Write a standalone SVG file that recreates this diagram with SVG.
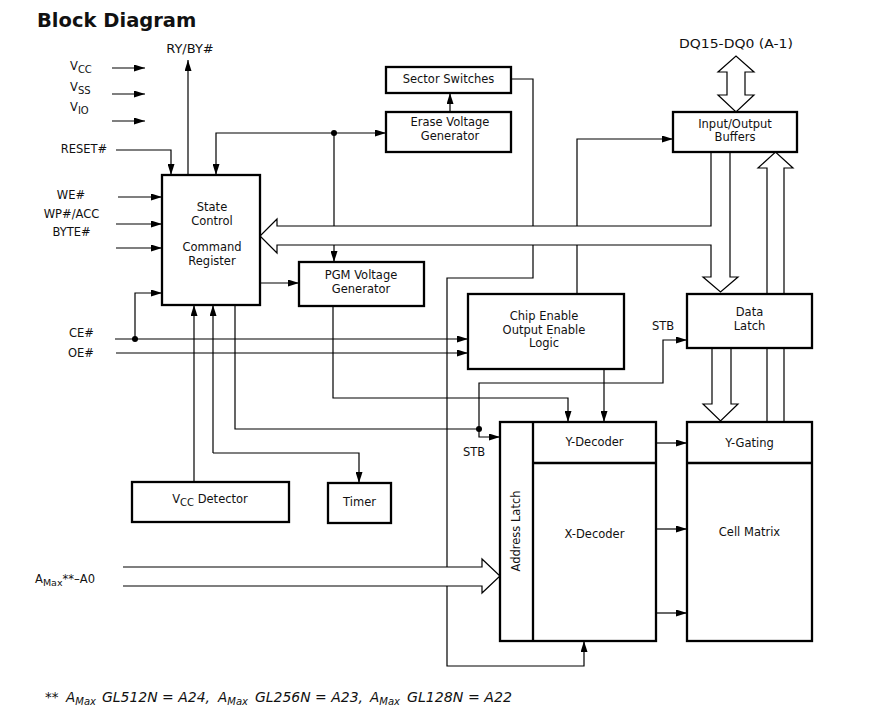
<svg xmlns="http://www.w3.org/2000/svg" width="881" height="722" viewBox="0 0 881 722">
<style>
.t{font-family:"DejaVu Sans","Liberation Sans",sans-serif;font-size:11.5px;fill:#111}
.big{font-size:13px}
.fn{font-family:"DejaVu Sans","Liberation Sans",sans-serif;font-size:13.5px;font-style:italic;fill:#111}
.m{text-anchor:middle}
.e{text-anchor:end}
.box{fill:#fff;stroke:#000;stroke-width:2.3}
.ln{fill:none;stroke:#000;stroke-width:1.2}
.ar{marker-end:url(#ah)}
.hol{fill:#fff;stroke:#000;stroke-width:1.2;stroke-linejoin:miter}
.dot{fill:#000}
</style>
<defs>
<marker id="ah" markerUnits="userSpaceOnUse" markerWidth="11" markerHeight="7" refX="11" refY="3.5" orient="auto">
<path d="M0,0 L11,3.5 L0,7 z" fill="#000"/>
</marker>
</defs>
<rect width="881" height="722" fill="#fff"/>
<text x="37" y="27" font-family="DejaVu Sans,sans-serif" font-weight="bold" font-size="19.5" fill="#111">Block Diagram</text>

<g id="labels">
<text class="t big m" x="190" y="53">RY/BY#</text>
<text class="t" x="70" y="70">V<tspan font-size="10" dy="3">CC</tspan></text>
<text class="t" x="70" y="91">V<tspan font-size="10" dy="3">SS</tspan></text>
<text class="t" x="70" y="111">V<tspan font-size="10" dy="3">IO</tspan></text>
<text class="t m" x="84" y="153">RESET#</text>
<text class="t m" x="71" y="199">WE#</text>
<text class="t m" x="71.5" y="218">WP#/ACC</text>
<text class="t m" x="71.5" y="236">BYTE#</text>
<text class="t e" x="94" y="337">CE#</text>
<text class="t e" x="94" y="357">OE#</text>
<text class="t big m" x="736" y="48" textLength="114" lengthAdjust="spacingAndGlyphs">DQ15-DQ0 (A-1)</text>
<text class="t" x="652" y="330">STB</text>
<text class="t" x="463" y="456">STB</text>
<text class="t" x="35" y="583" font-size="12">A<tspan font-size="9.5" dy="3">Max</tspan><tspan dy="-3">**–A0</tspan></text>
<text class="fn" x="45" y="702">**</text>
<text class="fn" x="66" y="702">A<tspan font-size="10" dy="3">Max</tspan></text>
<text class="fn" x="102" y="702" textLength="108" lengthAdjust="spacingAndGlyphs">GL512N = A24,</text>
<text class="fn" x="218" y="702">A<tspan font-size="10" dy="3">Max</tspan></text>
<text class="fn" x="255" y="702" textLength="108" lengthAdjust="spacingAndGlyphs">GL256N = A23,</text>
<text class="fn" x="370" y="702">A<tspan font-size="10" dy="3">Max</tspan></text>
<text class="fn" x="407" y="702" textLength="105" lengthAdjust="spacingAndGlyphs">GL128N = A22</text>
</g>

<g id="connectors">
<path class="ln ar" d="M112,68 H145"/>
<path class="ln ar" d="M112,94 H145"/>
<path class="ln ar" d="M112,121 H145"/>
<path class="ln ar" d="M116,150 H171 V175"/>
<path class="ln ar" d="M188,175 V60"/>
<path class="ln ar" d="M118,197 H162"/>
<path class="ln ar" d="M116,224 H162"/>
<path class="ln ar" d="M116,248 H162"/>
<path class="ln ar" d="M115,339 H468"/>
<path class="ln ar" d="M116,353 H468"/>
<path class="ln ar" d="M135,339 V293 H162"/>
<circle class="dot" cx="135" cy="339" r="3"/>
<path class="ln ar" d="M334,133 H216 V175"/>
<path class="ln ar" d="M334,133 H386"/>
<path class="ln ar" d="M334,133 V262"/>
<circle class="dot" cx="334" cy="133" r="3"/>
<path class="ln ar" d="M450,112 V93"/>
<path class="ln ar" d="M260,283 H299"/>
<path class="ln ar" d="M511,79 H533 V278 H447 V666 H584 V641"/>
<path class="ln ar" d="M577,294 V139 H673"/>
<path class="ln ar" d="M333,306 V398 H568 V422"/>
<path class="ln ar" d="M604,369 V422"/>
<path class="ln" d="M235,305 V429 H479"/>
<circle class="dot" cx="479" cy="429" r="3"/>
<path class="ln ar" d="M479,429 V437 H500"/>
<path class="ln ar" d="M479,429 V383 H663 V340 H687"/>
<path class="ln ar" d="M194,482 V305"/>
<path class="ln ar" d="M213,453 V305"/>
<path class="ln ar" d="M213,453 H359 V483"/>
<path class="ln ar" d="M656,443 H687"/>
<path class="ln ar" d="M656,529 H687"/>
<path class="ln ar" d="M656,613 H687"/>
<path class="hol" d="M123,567 H482 V559 L500,576 L482,593 V586 H123"/>
<path class="hol" d="M711,152 V226 H277 V219 L260,236 L277,253 V245 H711 V277 H703 L720.5,292 L738,277 H730 V152"/>
<path class="hol" d="M767,422 V168 H758 L775.5,152 L793,168 H784 V422"/>
<path class="hol" d="M712,348 V404 H703 L720.5,421 L738,404 H731 V348"/>
<path class="hol" d="M727,95 V72 H718 L736,56 L754,72 H745 V95 H754 L736,112 L718,95 Z"/>
</g>

<g id="sector-switches">
<rect class="box" x="386" y="67" width="125" height="26"/>
<text class="t m" x="448.5" y="83">Sector Switches</text>
</g>
<g id="erase-voltage-generator">
<rect class="box" x="386" y="112" width="125" height="40"/>
<text class="t m" x="450" y="126">Erase Voltage</text>
<text class="t m" x="450" y="139.5">Generator</text>
</g>
<g id="state-control">
<rect class="box" x="162" y="175" width="98" height="130"/>
<text class="t m" x="212" y="211">State</text>
<text class="t m" x="212" y="224.5">Control</text>
<text class="t m" x="212" y="251">Command</text>
<text class="t m" x="212" y="264.5">Register</text>
</g>
<g id="pgm-voltage-generator">
<rect class="box" x="299" y="262" width="125" height="44"/>
<text class="t m" x="361" y="279">PGM Voltage</text>
<text class="t m" x="361" y="293">Generator</text>
</g>
<g id="io-buffers">
<rect class="box" x="673" y="112" width="124" height="40"/>
<text class="t m" x="735" y="128">Input/Output</text>
<text class="t m" x="735" y="141">Buffers</text>
</g>
<g id="chip-enable-logic">
<rect class="box" x="468" y="294" width="156" height="75"/>
<text class="t m" x="544" y="320">Chip Enable</text>
<text class="t m" x="544" y="333.5">Output Enable</text>
<text class="t m" x="544" y="347">Logic</text>
</g>
<g id="data-latch">
<rect class="box" x="687" y="294" width="125" height="54"/>
<text class="t m" x="749.5" y="316">Data</text>
<text class="t m" x="749.5" y="329.5">Latch</text>
</g>
<g id="decoders">
<rect class="box" x="500" y="422" width="156" height="219"/>
<path d="M533,422 V641 M533,463 H656" stroke="#000" stroke-width="2.3" fill="none"/>
<text class="t m" x="594.5" y="446">Y-Decoder</text>
<text class="t m" x="594.5" y="538">X-Decoder</text>
<text class="t m" transform="translate(520,531) rotate(-90)">Address Latch</text>
</g>
<g id="cell-matrix">
<rect class="box" x="687" y="422" width="125" height="219"/>
<path d="M687,463 H812" stroke="#000" stroke-width="2.3"/>
<text class="t m" x="749.5" y="447">Y-Gating</text>
<text class="t m" x="749.5" y="536">Cell Matrix</text>
</g>
<g id="vcc-detector">
<rect class="box" x="132" y="482" width="157" height="40"/>
<text class="t m" x="210" y="503">V<tspan font-size="10" dy="3">CC</tspan><tspan dy="-3"> Detector</tspan></text>
</g>
<g id="timer">
<rect class="box" x="328" y="483" width="63" height="40"/>
<text class="t m" x="359.5" y="506">Timer</text>
</g>
</svg>
